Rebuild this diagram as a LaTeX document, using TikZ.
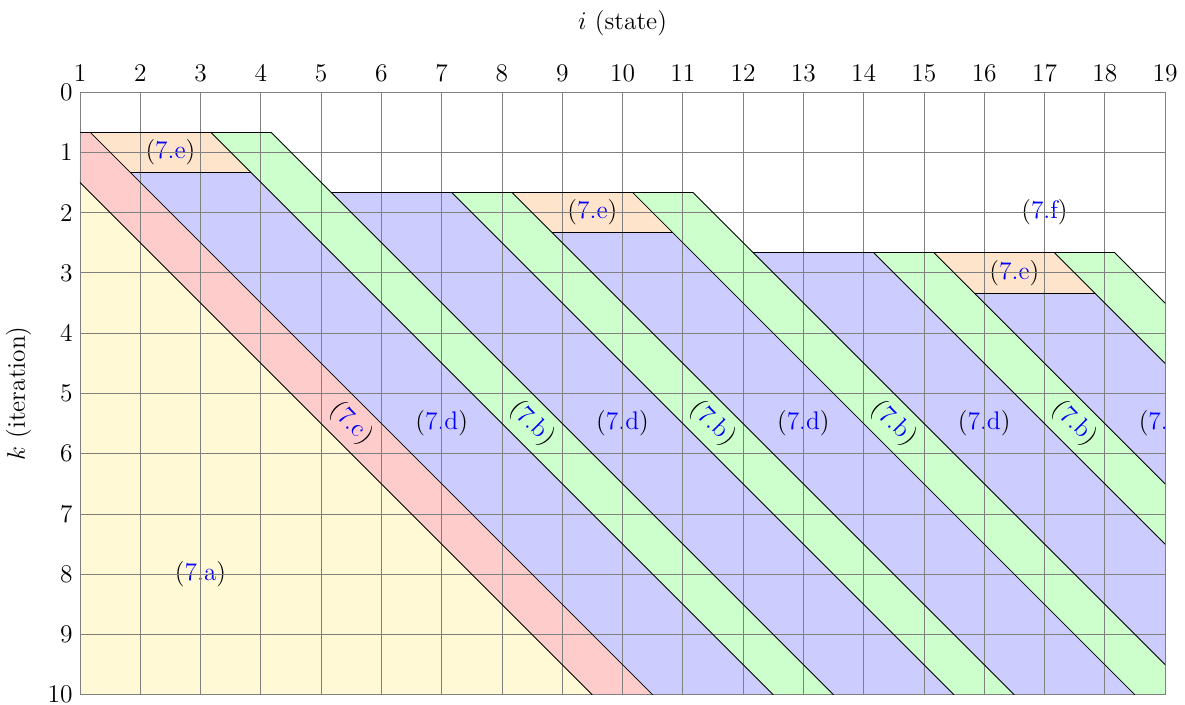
\documentclass[tikz,border=0pt]{standalone}
\usepackage{xcolor}
\definecolor{fillyel}{RGB}{255,249,214}
\definecolor{fillred}{RGB}{255,204,204}
\definecolor{fillblue}{RGB}{204,204,255}
\definecolor{fillgreen}{RGB}{204,255,204}
\definecolor{fillorange}{RGB}{255,228,204}
\newcommand\myeq[1]{(\textcolor{blue}{#1})}
\begin{document}
\begin{tikzpicture}[x=1cm,y=-1cm,
  every node/.style={font=\fontsize{12}{14.5}\selectfont},
  edgeline/.style={black, line width=0.4pt},
  gridline/.style={gray, line width=0.4pt},
  eqlabel/.style={inner sep=1pt},
  ticklab/.style={inner sep=3.33pt}]
\useasboundingbox (-0.327,-1.526) rectangle (19.331,10.169);

\begin{scope}
\clip (1,0) rectangle (19,10);
% yellow and red
\fill[fillyel] (1,1.5) -- (9.5,10) -- (1,10) -- cycle;
\fill[fillred] (1,2/3) -- (7/6,2/3) -- (10.5,10) -- (9.5,10) -- (1,1.5) -- cycle;
% segment 1
\fill[fillblue] (7/6,2/3) -- (19/6,2/3) -- (12.5,10) -- (10.5,10) -- cycle;
\fill[fillorange] (7/6,2/3) -- (19/6,2/3) -- (23/6,4/3) -- (11/6,4/3) -- cycle;
\fill[fillgreen] (19/6,2/3) -- (25/6,2/3) -- (13.5,10) -- (12.5,10) -- cycle;
% segment 2
\fill[fillblue] (31/6,5/3) -- (43/6,5/3) -- (15.5,10) -- (13.5,10) -- cycle;
\fill[fillgreen] (43/6,5/3) -- (49/6,5/3) -- (16.5,10) -- (15.5,10) -- cycle;
\fill[fillblue] (49/6,5/3) -- (61/6,5/3) -- (18.5,10) -- (16.5,10) -- cycle;
\fill[fillorange] (49/6,5/3) -- (61/6,5/3) -- (65/6,7/3) -- (53/6,7/3) -- cycle;
\fill[fillgreen] (61/6,5/3) -- (67/6,5/3) -- (19.5,10) -- (18.5,10) -- cycle;
% segment 3
\fill[fillblue] (73/6,8/3) -- (85/6,8/3) -- (21.5,10) -- (19.5,10) -- cycle;
\fill[fillgreen] (85/6,8/3) -- (91/6,8/3) -- (22.5,10) -- (21.5,10) -- cycle;
\fill[fillblue] (91/6,8/3) -- (103/6,8/3) -- (24.5,10) -- (22.5,10) -- cycle;
\fill[fillorange] (91/6,8/3) -- (103/6,8/3) -- (107/6,10/3) -- (95/6,10/3) -- cycle;
\fill[fillgreen] (103/6,8/3) -- (109/6,8/3) -- (25.5,10) -- (24.5,10) -- cycle;

% labels
\node[eqlabel] (la) at (3,8) {\myeq{7.a}};
\node[eqlabel,rotate=-45] (lc) at (5.5,5.5) {\myeq{7.c}};
\node[eqlabel] (ld1) at (7,5.5) {\myeq{7.d}};
\node[eqlabel] (ld2) at (10,5.5) {\myeq{7.d}};
\node[eqlabel] (ld3) at (13,5.5) {\myeq{7.d}};
\node[eqlabel] (ld4) at (16,5.5) {\myeq{7.d}};
\node[eqlabel] (ld5) at (19,5.5) {\myeq{7.d}};
\node[eqlabel,rotate=-45] (lb1) at (8.5,5.5) {\myeq{7.b}};
\node[eqlabel,rotate=-45] (lb2) at (11.5,5.5) {\myeq{7.b}};
\node[eqlabel,rotate=-45] (lb3) at (14.5,5.5) {\myeq{7.b}};
\node[eqlabel,rotate=-45] (lb4) at (17.5,5.5) {\myeq{7.b}};
\node[eqlabel] (le1) at (2.5,1) {\myeq{7.e}};
\node[eqlabel] (le2) at (9.5,2) {\myeq{7.e}};
\node[eqlabel] (le3) at (16.5,3) {\myeq{7.e}};
\node[eqlabel] (lf) at (17,2) {\myeq{7.f}};
\end{scope}

% grid
\draw[gridline] (1,0) grid (19,10);

\begin{scope}
\clip (1,0) rectangle (19,10);
% top edges
\draw[edgeline] (1,2/3) -- (25/6,2/3);
\draw[edgeline] (31/6,5/3) -- (67/6,5/3);
\draw[edgeline] (73/6,8/3) -- (109/6,8/3);
% orange bottoms
\draw[edgeline] (11/6,4/3) -- (23/6,4/3);
\draw[edgeline] (53/6,7/3) -- (65/6,7/3);
\draw[edgeline] (95/6,10/3) -- (107/6,10/3);
% slanted lines
\draw[edgeline] (1,1.5) -- (9.5,10);
\draw[edgeline] (7/6,2/3) -- (10.5,10);
\draw[edgeline] (19/6,2/3) -- (12.5,10);
\draw[edgeline] (25/6,2/3) -- (13.5,10);
\draw[edgeline] (43/6,5/3) -- (15.5,10);
\draw[edgeline] (49/6,5/3) -- (16.5,10);
\draw[edgeline] (61/6,5/3) -- (18.5,10);
\draw[edgeline] (67/6,5/3) -- (19.5,10);
\draw[edgeline] (85/6,8/3) -- (21.5,10);
\draw[edgeline] (91/6,8/3) -- (22.5,10);
\draw[edgeline] (103/6,8/3) -- (24.5,10);
\draw[edgeline] (109/6,8/3) -- (25.5,10);
\end{scope}

% tick labels
\foreach \i in {1,...,19} \node[anchor=base] (xt\i) at (\i,-0.166) {\i};
\foreach \k in {0,...,10} \node[ticklab,anchor=east] (yt\k) at (1,\k) {\k};

% axis labels
\node (xlab) at (10,-1.15) {$i$ (state)};
\node[rotate=90] (ylab) at (-0.02,5) {$k$ (iteration)};
\end{tikzpicture}
\end{document}
